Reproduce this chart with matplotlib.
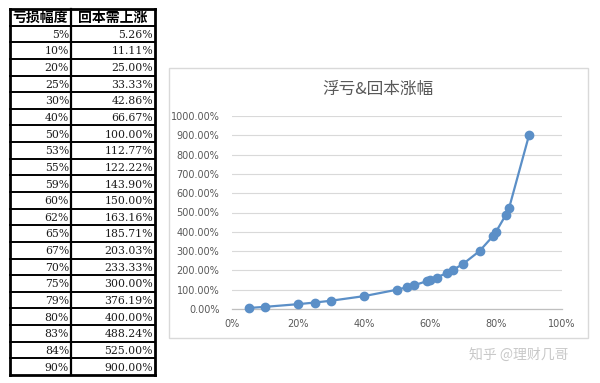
import matplotlib
matplotlib.use("Agg")
import matplotlib.pyplot as plt
from matplotlib.patches import Rectangle
from matplotlib.ticker import FuncFormatter, MultipleLocator

plt.rcParams['font.family'] = ['Noto Sans CJK SC', 'DejaVu Sans']

loss_pct = [5, 10, 20, 25, 30, 40, 50, 53, 55, 59, 60, 62, 65, 67, 70, 75, 79, 80, 83, 84, 90]
gain_pct = [5.26, 11.11, 25.00, 33.33, 42.86, 66.67, 100.00, 112.77, 122.22, 143.90, 150.00,
            163.16, 185.71, 203.03, 233.33, 300.00, 376.19, 400.00, 488.24, 525.00, 900.00]
headers = ["亏损幅度", "回本需上涨"]
chart_title = "浮亏&回本涨幅"
watermark = "知乎 @理财几哥"

W, H = 600, 383
fig = plt.figure(figsize=(6, 3.83), dpi=100)
fig.patch.set_facecolor('white')

# ---------- chart box (drawn behind) ----------
bx0, bx1, by0, by1 = 169, 588, 68, 338
fig.add_artist(Rectangle((bx0 / W, 1 - by1 / H), (bx1 - bx0) / W, (by1 - by0) / H,
                         transform=fig.transFigure, facecolor='white', edgecolor='#D9D9D9',
                         lw=1.0, zorder=-5))

# ---------- table ----------
tx0, tx1, ty0, ty1 = 10, 155, 9, 375
tab = fig.add_axes([tx0 / W, 1 - ty1 / H, (tx1 - tx0) / W, (ty1 - ty0) / H])
nrows = len(loss_pct) + 1
tab.set_xlim(0, tx1 - tx0)
tab.set_ylim(nrows, 0)
tab.axis('off')
colx = 61
for r in range(nrows + 1):
    lw = 2.0 if r in (0, nrows) else 1.4
    tab.plot([0, tx1 - tx0], [r, r], color='black', lw=lw, solid_capstyle='projecting', clip_on=False)
for x in (0, colx, tx1 - tx0):
    lw = 2.0 if x != colx else 1.6
    tab.plot([x, x], [0, nrows], color='black', lw=lw, solid_capstyle='projecting', clip_on=False)
tab.text(colx / 2, 0.52, headers[0], ha='center', va='center', fontsize=10, fontweight='bold', color='black')
tab.text((colx + tx1 - tx0) / 2, 0.52, headers[1], ha='center', va='center', fontsize=10, fontweight='bold', color='black')
for i, (l, g) in enumerate(zip(loss_pct, gain_pct)):
    y = i + 1.55
    tab.text(colx - 2, y, f"{l}%", ha='right', va='center', fontsize=7.8,
             family=['DejaVu Serif'], color='#1a1a1a')
    tab.text(tx1 - tx0 - 2, y, f"{g:.2f}%", ha='right', va='center', fontsize=7.8,
             family=['DejaVu Serif'], color='#1a1a1a')

# ---------- chart ----------
px0, px1, py0, py1 = 232, 562, 116, 309
ax = fig.add_axes([px0 / W, 1 - py1 / H, (px1 - px0) / W, (py1 - py0) / H])
ax.set_facecolor('none')
xs = [v / 100 for v in loss_pct]
ys = [v / 100 for v in gain_pct]
ax.plot(xs, ys, color='#5B8FC7', lw=1.6, marker='o', markersize=6,
        markerfacecolor='#5B8FC7', markeredgecolor='#5B8FC7', zorder=3, clip_on=False)
ax.set_xlim(0, 1)
ax.set_ylim(0, 10)
ax.yaxis.set_major_locator(MultipleLocator(1))
ax.xaxis.set_major_locator(MultipleLocator(0.2))
ax.yaxis.set_major_formatter(FuncFormatter(lambda v, p: f"{v * 100:.2f}%"))
ax.xaxis.set_major_formatter(FuncFormatter(lambda v, p: f"{v * 100:.0f}%"))
ax.grid(axis='y', color='#D9D9D9', lw=0.8)
ax.set_axisbelow(True)
for s in ('top', 'right', 'left'):
    ax.spines[s].set_visible(False)
ax.spines['bottom'].set_color('#BFBFBF')
ax.spines['bottom'].set_linewidth(0.9)
ax.tick_params(axis='both', length=0, labelsize=7, labelcolor='#595959')
ax.tick_params(axis='y', pad=9)
ax.tick_params(axis='x', pad=7)
for lab in ax.get_xticklabels() + ax.get_yticklabels():
    lab.set_family(['DejaVu Sans'])

fig.text(378 / W, 1 - 89 / H, chart_title, ha='center', va='center', fontsize=12, color='#595959')

fig.text(519 / W, 1 - 355 / H, watermark, ha='center', va='center', fontsize=10, color='#C8C8C8')

fig.savefig('out.png', dpi=100, facecolor='white')
